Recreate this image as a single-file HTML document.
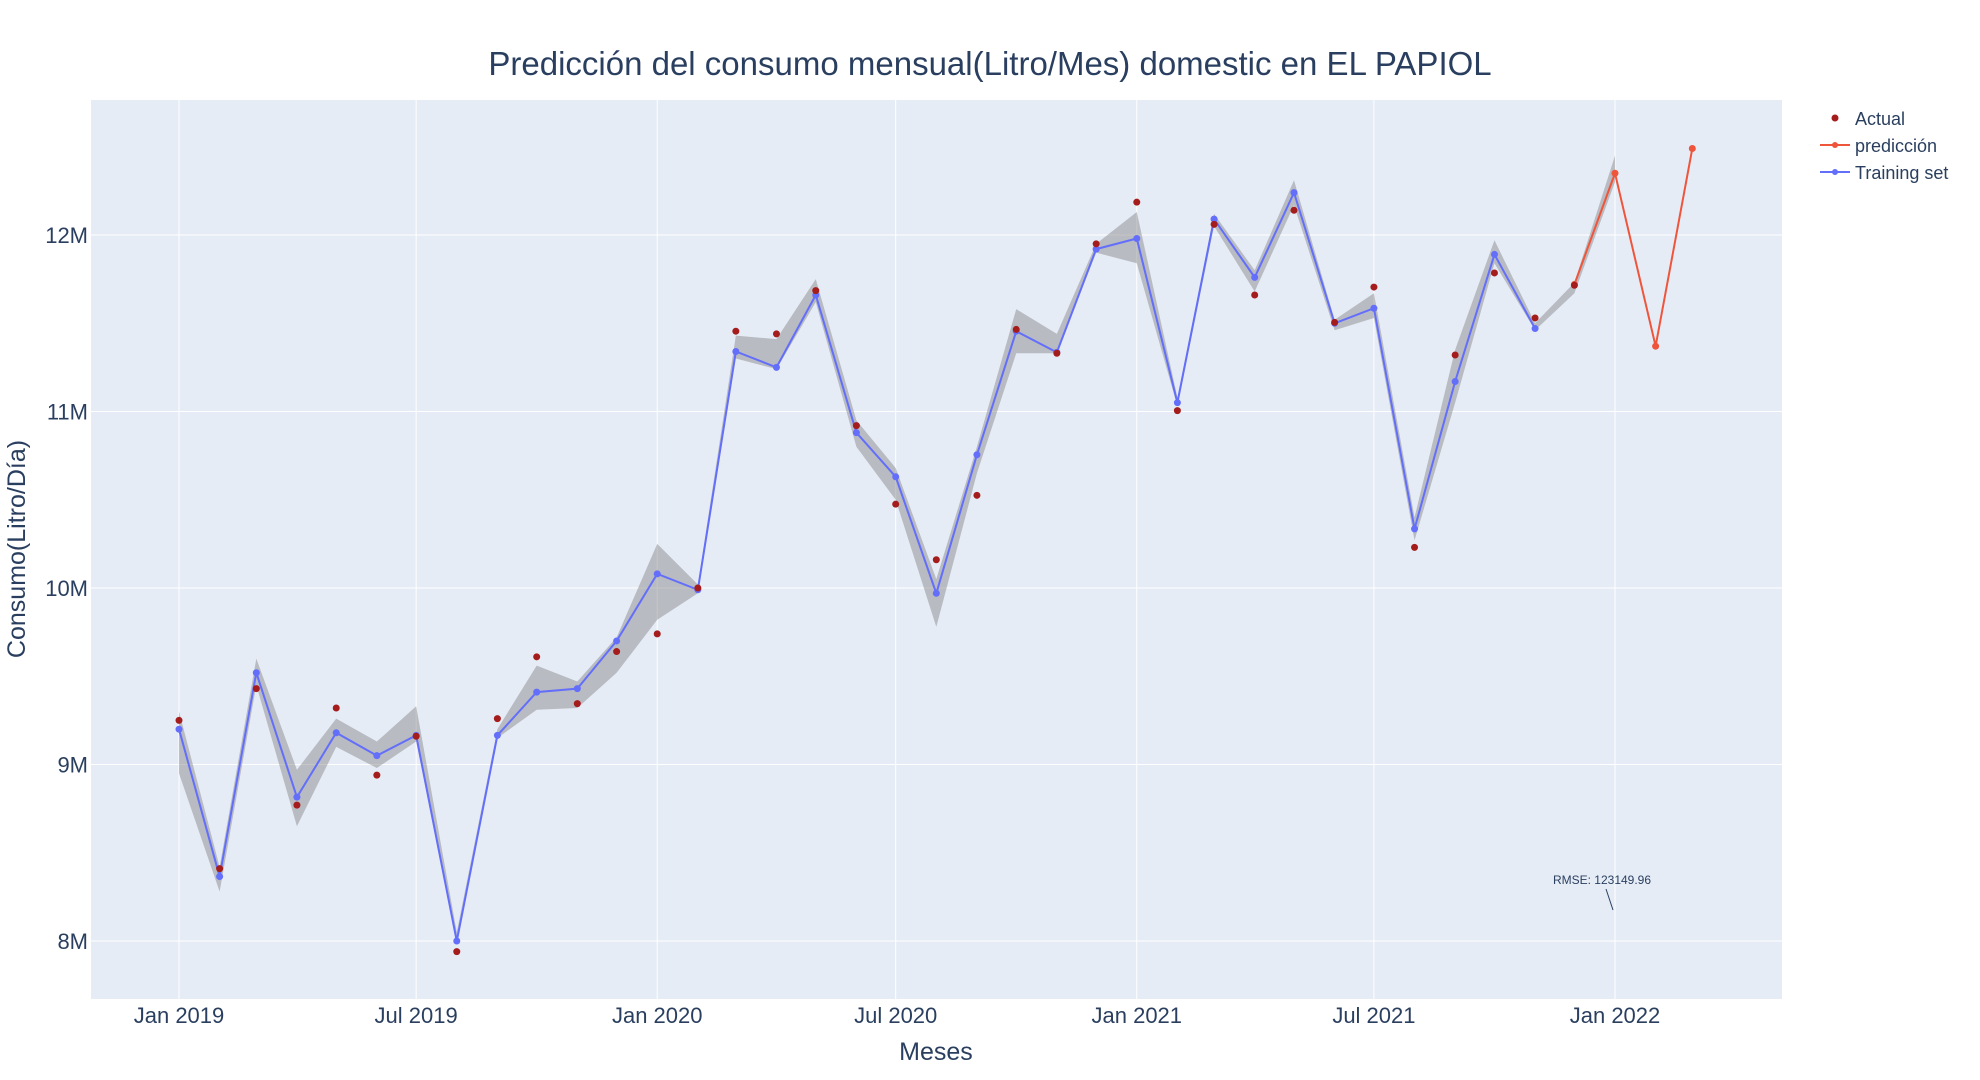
<!DOCTYPE html>
<html><head><meta charset="utf-8">
<style>
html,body{margin:0;padding:0;background:#fff;}
svg{display:block;font-family:"Liberation Sans","DejaVu Sans",sans-serif;}
</style></head>
<body>
<svg id="chart" width="1980" height="1080" viewBox="0 0 1980 1080" xmlns="http://www.w3.org/2000/svg">
<rect x="91" y="100" width="1691" height="899" fill="#e5ecf6"/>
<g id="grid"></g>
<g id="band"></g>
<g id="series"></g>
<text x="990" y="75" text-anchor="middle" font-size="33" fill="#2a3f5f">Predicción del consumo mensual(Litro/Mes) domestic en EL PAPIOL</text>
<text x="936" y="1060" text-anchor="middle" font-size="25" fill="#2a3f5f">Meses</text>
<text transform="translate(25,549) rotate(-90)" text-anchor="middle" font-size="25" fill="#2a3f5f">Consumo(Litro/Día)</text>
<g id="yticks"></g>
<g id="xticks"></g>
<g>
  <g>
    <circle cx="1835" cy="118" r="3.5" fill="#a51c1c"/>
    <text x="1855" y="125" font-size="18" fill="#2a3f5f">Actual</text>
  </g>
  <g>
    <line x1="1820" y1="145" x2="1850" y2="145" stroke="#ef553b" stroke-width="2"/>
    <circle cx="1835" cy="145" r="3" fill="#ef553b"/>
    <text x="1855" y="152" font-size="18" fill="#2a3f5f">predicción</text>
  </g>
  <g>
    <line x1="1820" y1="172" x2="1850" y2="172" stroke="#636efa" stroke-width="2"/>
    <circle cx="1835" cy="172" r="3" fill="#636efa"/>
    <text x="1855" y="179" font-size="18" fill="#2a3f5f">Training set</text>
  </g>
</g>
<g>
  <text x="1602" y="884" text-anchor="middle" font-size="12" fill="#2a3f5f">RMSE: 123149.96</text>
  <line x1="1606" y1="889" x2="1613" y2="910" stroke="#2a3f5f" stroke-width="1"/>
</g>
</svg>
<script>
const months = ["2019-01","2019-02","2019-03","2019-04","2019-05","2019-06","2019-07","2019-08","2019-09","2019-10","2019-11","2019-12",
"2020-01","2020-02","2020-03","2020-04","2020-05","2020-06","2020-07","2020-08","2020-09","2020-10","2020-11","2020-12",
"2021-01","2021-02","2021-03","2021-04","2021-05","2021-06","2021-07","2021-08","2021-09","2021-10","2021-11","2021-12","2022-01"];
const trainingValues = [9.20,8.365,9.52,8.815,9.18,9.05,9.165,8.00,9.165,9.41,9.43,9.70,
10.08,9.99,11.34,11.25,11.66,10.88,10.63,9.97,10.755,11.455,11.335,11.92,
11.98,11.05,12.09,11.76,12.24,11.50,11.585,10.335,11.17,11.89,11.47];
const actualValues = [9.25,8.41,9.43,8.77,9.32,8.94,9.16,7.94,9.26,9.61,9.345,9.64,
9.74,10.00,11.455,11.44,11.685,10.92,10.475,10.16,10.525,11.465,11.33,11.95,
12.186,11.005,12.06,11.66,12.14,11.505,11.705,10.23,11.32,11.785,11.53,11.715];
const bandUpper = [9.30,8.42,9.60,8.97,9.26,9.13,9.33,8.05,9.20,9.56,9.47,9.72,
10.25,10.02,11.43,11.41,11.75,10.95,10.68,10.05,10.80,11.58,11.44,11.95,
12.13,11.08,12.12,11.80,12.31,11.52,11.67,10.40,11.35,11.97,11.50,11.73,12.45];
const bandLower = [8.95,8.28,9.45,8.65,9.10,8.98,9.13,7.98,9.15,9.31,9.32,9.52,
9.82,9.97,11.30,11.24,11.62,10.80,10.50,9.78,10.65,11.33,11.33,11.90,
11.84,11.03,12.05,11.68,12.17,11.46,11.53,10.27,11.05,11.84,11.46,11.67,12.30];
const predMonths = ["2021-12","2022-01","2022-02","2022-03"];
const predValues = [11.72,12.35,11.37,12.49];
const yTicks = [8,9,10,11,12];
const yTickLabels = ["8M","9M","10M","11M","12M"];
const xTickDates = ["2019-01","2019-07","2020-01","2020-07","2021-01","2021-07","2022-01"];
const xTickLabels = ["Jan 2019","Jul 2019","Jan 2020","Jul 2020","Jan 2021","Jul 2021","Jan 2022"];

const NS="http://www.w3.org/2000/svg";
const t0=Date.UTC(2019,0,1), t1=Date.UTC(2022,0,1);
function xs(m){const [y,mo]=m.split("-").map(Number);const t=Date.UTC(y,mo-1,1);return 179+(t-t0)/(t1-t0)*(1615-179);}
function ys(v){return 941-(v-8)*176.5;}
function mk(tag,attrs,parent){const e=document.createElementNS(NS,tag);for(const k in attrs)e.setAttribute(k,attrs[k]);parent.appendChild(e);return e;}

const grid=document.getElementById("grid");
const yt=document.getElementById("yticks");
yTicks.forEach((v,i)=>{
  const l=mk("line",{x1:91,x2:1782,y1:ys(v),y2:ys(v),stroke:"#fff","stroke-width":1},grid);
  
  
  const t=mk("text",{x:88,y:ys(v)+8,"text-anchor":"end","font-size":22,fill:"#2a3f5f"},yt);
  
  
  t.textContent=yTickLabels[i];
});
const xt=document.getElementById("xticks");
xTickDates.forEach((d,i)=>{
  const l=mk("line",{x1:xs(d),x2:xs(d),y1:100,y2:999,stroke:"#fff","stroke-width":1},grid);
  
  
  const t=mk("text",{x:xs(d),y:1023,"text-anchor":"middle","font-size":22,fill:"#2a3f5f"},xt);
  
  
  t.textContent=xTickLabels[i];
});

const band=document.getElementById("band");
let pts=months.map((m,i)=>xs(m)+","+ys(bandUpper[i]));
for(let i=months.length-1;i>=0;i--)pts.push(xs(months[i])+","+ys(bandLower[i]));
const poly=mk("polygon",{points:pts.join(" "),fill:"rgba(128,128,128,0.45)",stroke:"none"},band);



const S=document.getElementById("series");
const tl=mk("polyline",{points:trainingValues.map((v,i)=>xs(months[i])+","+ys(v)).join(" "),fill:"none",stroke:"#636efa","stroke-width":2},S);


trainingValues.forEach((v,i)=>{
  const c=mk("circle",{cx:xs(months[i]),cy:ys(v),r:3.5,fill:"#636efa"},S);
  
  
});
const pl=mk("polyline",{points:predValues.map((v,i)=>xs(predMonths[i])+","+ys(v)).join(" "),fill:"none",stroke:"#ef553b","stroke-width":2},S);


predValues.forEach((v,i)=>{
  const c=mk("circle",{cx:xs(predMonths[i]),cy:ys(v),r:3.5,fill:"#ef553b"},S);
  
  
});
actualValues.forEach((v,i)=>{
  const c=mk("circle",{cx:xs(months[i]),cy:ys(v),r:3.5,fill:"#a51c1c"},S);
  
  
});
</script>
</body></html>
